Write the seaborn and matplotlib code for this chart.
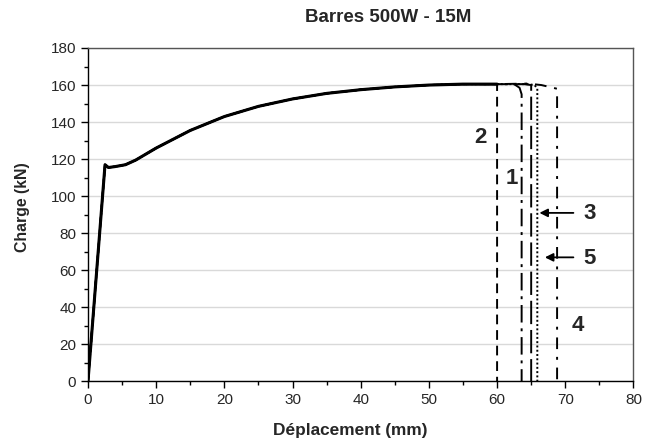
import matplotlib
matplotlib.use("Agg")
import matplotlib.pyplot as plt
import seaborn as sns
import numpy as np
import pandas as pd
from matplotlib.ticker import MultipleLocator

# Common loading curve (displacement mm, load kN)
disp_common = [0, 2.5, 3.0, 4.0, 5.5, 7, 10, 15, 20, 25, 30, 35, 40, 45, 50, 55, 58, 60]
load_common = [0, 117, 115.5, 116, 117, 119.5, 126, 135.5, 143, 148.5, 152.5, 155.5, 157.5, 159, 160, 160.5, 160.5, 160.5]

# Specimen rupture data
specimens = ["1", "2", "3", "4", "5"]
# extra tail points after the common curve for each specimen
tail_disp = {
    "2": [60.0, 60.0],
    "1": [62.5, 63.3, 63.6, 63.6],
    "3": [64.0, 65.0, 65.0],
    "5": [64.5, 65.5, 65.9, 65.9],
    "4": [64.5, 66.5, 68.8, 68.8],
}
tail_load = {
    "2": [160.5, 0],
    "1": [160.5, 158.5, 155, 0],
    "3": [160.5, 160, 0],
    "5": [160.5, 160, 158, 0],
    "4": [160.8, 160, 158, 0],
}
styles = {
    "2": (0, (5, 3)),
    "1": (0, (9, 3, 1.5, 3)),
    "3": (0, (12, 3)),
    "5": (0, (1, 1.2)),
    "4": (0, (6, 4, 1.5, 4)),
}

# Annotation positions (data units)
label_text = ["2", "1", "4"]
label_x = [57.6, 62.2, 71.8]
label_y = [131.5, 109.5, 30.0]
arrow_text = ["3", "5"]
arrow_head_x = [65.8, 66.6]
arrow_tail_x = [71.6, 71.6]
arrow_y = [91.0, 67.0]
arrow_label_x = [73.5, 73.5]

plt.rcParams['font.family'] = ['Liberation Sans', 'DejaVu Sans']
sns.set_style("white")
plt.rcParams['font.family'] = ['Liberation Sans', 'DejaVu Sans']

fig = plt.figure(figsize=(6.45, 4.44), dpi=100)
ax = fig.add_axes([0.1364, 0.1408, 0.8457, 0.7511])

ax.yaxis.grid(True, color="#d9d9d9", lw=1.0)
ax.set_axisbelow(True)

# common curve
df_common = pd.DataFrame({"x": disp_common, "y": load_common})
sns.lineplot(data=df_common, x="x", y="y", sort=False, estimator=None,
             color="black", lw=2.2, ax=ax)

for s in specimens:
    n = len([v for v in disp_common if v < tail_disp[s][0]])
    xs = disp_common[:n] + tail_disp[s]
    ys = load_common[:n] + tail_load[s]
    d = pd.DataFrame({"x": xs, "y": ys})
    sns.lineplot(data=d, x="x", y="y", sort=False, estimator=None, color="black",
                 lw=1.4, linestyle=styles[s], ax=ax)

for t, x, y in zip(label_text, label_x, label_y):
    ax.text(x, y, t, fontsize=16, fontweight="bold", ha="center", va="center")
for t, hx, tx, y, lx in zip(arrow_text, arrow_head_x, arrow_tail_x, arrow_y, arrow_label_x):
    ax.annotate("", xy=(hx, y), xytext=(tx, y),
                arrowprops=dict(arrowstyle="-|>", color="black", lw=1.3, mutation_scale=12))
    ax.text(lx, y - 0.5, t, fontsize=16, fontweight="bold", ha="center", va="center")

ax.set_xlim(0, 80)
ax.set_ylim(0, 180)
ax.xaxis.set_major_locator(MultipleLocator(10))
ax.xaxis.set_minor_locator(MultipleLocator(5))
ax.yaxis.set_major_locator(MultipleLocator(20))
ax.yaxis.set_minor_locator(MultipleLocator(10))
ax.tick_params(which="major", direction="out", length=5, width=1, labelsize=11,
               bottom=True, left=True, color="black")
ax.tick_params(which="minor", direction="out", length=3, width=1,
               bottom=True, left=True, color="black")
for sp in ax.spines.values():
    sp.set_color("black")
    sp.set_linewidth(1.0)
ax.spines["top"].set_color("#555555")
ax.spines["right"].set_color("#555555")

ax.set_xlabel("Déplacement (mm)", fontsize=12.4, fontweight="bold")
ax.xaxis.set_label_coords(0.48, -0.124)
ax.set_ylabel("Charge (kN)", fontsize=11.4, fontweight="bold")
ax.yaxis.set_label_coords(-0.106, 0.523)
fig.text(388 / 645, 1 - 17 / 444, "Barres 500W - 15M", fontsize=13.5, fontweight="bold",
         ha="center", va="center")

fig.savefig("out.png", dpi=100)
